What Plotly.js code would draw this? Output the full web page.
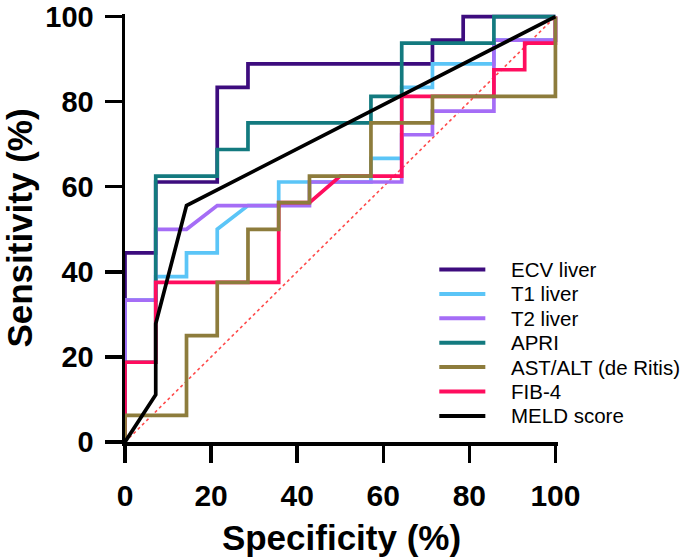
<!DOCTYPE html>
<html>
<head>
<meta charset="utf-8">
<script src="https://cdn.plot.ly/plotly-3.0.1.min.js"></script>
<style>
  html, body { margin: 0; padding: 0; background: #ffffff; }
  #chart { width: 685px; height: 557px; }
</style>
</head>
<body>
<div id="chart"></div>
<script>
// ---- data (100 - specificity on x, sensitivity on y, in %) ----
const seriesNames = ["ECV liver", "T1 liver", "T2 liver", "APRI", "AST/ALT (de Ritis)", "FIB-4", "MELD score"];

const ecvX  = [0, 0, 7.14, 7.14, 21.43, 21.43, 28.57, 28.57, 71.43, 71.43, 78.57, 78.57, 100];
const ecvY  = [0, 44.44, 44.44, 61.11, 61.11, 83.33, 83.33, 88.89, 88.89, 94.44, 94.44, 100, 100];

const t1X   = [0, 0, 7.14, 7.14, 14.29, 14.29, 21.43, 21.43, 28.57, 35.71, 35.71, 57.14, 57.14, 64.29, 64.29, 71.43, 71.43, 85.71, 85.71, 100, 100];
const t1Y   = [0, 33.33, 33.33, 38.89, 38.89, 44.44, 44.44, 50, 55.56, 55.56, 61.11, 61.11, 66.67, 66.67, 83.33, 83.33, 88.89, 88.89, 94.44, 94.44, 100];

const t2X   = [0, 0, 7.14, 7.14, 14.29, 21.43, 42.86, 42.86, 64.29, 64.29, 71.43, 71.43, 85.71, 85.71, 100, 100];
const t2Y   = [0, 33.33, 33.33, 50, 50, 55.56, 55.56, 61.11, 61.11, 72.22, 72.22, 77.78, 77.78, 94.44, 94.44, 100];

const apriX = [0, 0, 7.14, 7.14, 21.43, 21.43, 28.57, 28.57, 57.14, 57.14, 64.29, 64.29, 85.71, 85.71, 100];
const apriY = [0, 18.75, 18.75, 62.5, 62.5, 68.75, 68.75, 75, 75, 81.25, 81.25, 93.75, 93.75, 100, 100];

const astX  = [0, 0, 14.29, 14.29, 21.43, 21.43, 28.57, 28.57, 35.71, 35.71, 42.86, 42.86, 57.14, 57.14, 71.43, 71.43, 100, 100];
const astY  = [0, 6.25, 6.25, 25, 25, 37.5, 37.5, 50, 50, 56.25, 56.25, 62.5, 62.5, 75, 75, 81.25, 81.25, 100];

const fibX  = [0, 0, 7.14, 7.14, 35.71, 35.71, 42.86, 50, 64.29, 64.29, 85.71, 85.71, 92.86, 92.86, 100, 100];
const fibY  = [0, 18.75, 18.75, 37.5, 37.5, 56.25, 56.25, 62.5, 62.5, 81.25, 81.25, 87.5, 87.5, 93.75, 93.75, 100];

const meldX = [0, 7.14, 7.14, 14.29, 100];
const meldY = [0, 11.11, 27.78, 55.56, 100];

const refX  = [0, 100];
const refY  = [0, 100];

const tickVals = [0, 20, 40, 60, 80, 100];
const tickText = ["0", "20", "40", "60", "80", "100"];

// ---- styles ----
const seriesX = [ecvX, t1X, t2X, apriX, astX, fibX, meldX];
const seriesY = [ecvY, t1Y, t2Y, apriY, astY, fibY, meldY];
const colors  = ["#3D0C7E", "#5BC5F7", "#A56DF6", "#137A7F", "#8D7C3C", "#FF0D5E", "#000000"];
const drawOrder = [0, 1, 2, 3, 5, 4, 6];
const LW = 3.7;

const traces = [{
  x: refX, y: refY, type: "scatter", mode: "lines",
  line: { color: "#FF4A4A", width: 1.6, dash: "dot" },
  showlegend: false, hoverinfo: "skip"
}];
drawOrder.forEach(i => {
  traces.push({
    x: seriesX[i], y: seriesY[i], name: seriesNames[i],
    type: "scatter", mode: "lines",
    line: { color: colors[i], width: LW },
    showlegend: false
  });
});

// ---- plot geometry ----
const W = 685, H = 557;
const L = 125, PW = 432.6;          // x: 0 -> 125 px, 100 -> 555 px
const B = 442, PH = 428.1;          // y: 0 -> 442 px, 100 -> ~16.5 px
const T = B - PH;

// custom legend (lines + real text)
const legY0 = 269.5, legStep = 24.4;
const shapes = [], annotations = [];
seriesNames.forEach((nm, i) => {
  const py = legY0 + i * legStep;
  const yp = (B - py) / PH;
  shapes.push({
    type: "line", xref: "paper", yref: "paper",
    x0: (439 - L) / PW, x1: (485 - L) / PW, y0: yp, y1: yp,
    line: { color: colors[i], width: 4 }
  });
  annotations.push({
    xref: "paper", yref: "paper", x: (509 - L) / PW, y: yp,
    xanchor: "left", yanchor: "middle", showarrow: false,
    text: nm, font: { family: "Liberation Sans, Arial, sans-serif", size: 20.5, color: "#000000" }
  });
});

const axisCommon = {
  showline: true, linecolor: "#000000", linewidth: 3.5,
  ticks: "outside", ticklen: 17, tickwidth: 3.5, tickcolor: "#000000",
  showgrid: false, zeroline: false,
  tickmode: "array", tickvals: tickVals, ticktext: tickText,
  automargin: false, fixedrange: true
};

const layout = {
  width: W, height: H,
  margin: { l: L, r: W - L - PW, t: T, b: H - B, pad: 0 },
  paper_bgcolor: "#ffffff", plot_bgcolor: "#ffffff",
  showlegend: false,
  xaxis: Object.assign({}, axisCommon, {
    range: [0, 100.6],
    ticklabelstandoff: 7,
    tickfont: { family: "Liberation Sans, Arial, sans-serif", size: 30, color: "#000000", weight: "bold" },
    title: { text: "Specificity (%)", standoff: 27,
      font: { family: "Liberation Sans, Arial, sans-serif", size: 35, color: "#000000", weight: "bold" } }
  }),
  yaxis: Object.assign({}, axisCommon, {
    range: [0, 100.6],
    ticklabelstandoff: 5,
    tickfont: { family: "Liberation Sans, Arial, sans-serif", size: 29, color: "#000000", weight: "bold" },
    title: { text: "Sensitivity (%)", standoff: 6,
      font: { family: "Liberation Sans, Arial, sans-serif", size: 35, color: "#000000", weight: "bold" } }
  }),
  shapes: shapes,
  annotations: annotations
};

Plotly.newPlot("chart", traces, layout, { staticPlot: true, displayModeBar: false });
</script>
</body>
</html>
